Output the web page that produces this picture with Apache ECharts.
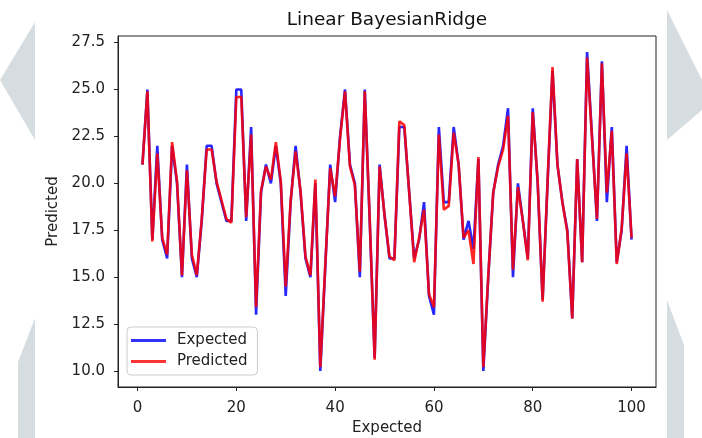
<!DOCTYPE html>
<html>
<head>
<meta charset="utf-8" />
<script src="https://cdn.jsdelivr.net/npm/echarts@6/dist/echarts.min.js"></script>
<style>
  html, body { margin: 0; padding: 0; background: #fff; }
  #chart { width: 702px; height: 438px; }
</style>
</head>
<body>
<div id="chart"></div>
<script>
// 数据：100 个点
const expected = [
  21, 25, 17, 22, 17, 16, 22, 20, 15, 21,
  16, 15, 18, 22, 22, 20, 19, 18, 18, 25,
  25, 18, 23, 13, 19.5, 21, 20, 22, 20, 14,
  19, 22, 19.5, 16, 15, 20, 10, 15.5, 21, 19,
  22.5, 25, 21, 20, 15, 25, 18, 10.7, 21, 18.3,
  16, 16, 23, 23, 19.5, 16, 17, 19, 14, 13,
  23, 19, 19, 23, 21, 17, 18, 16.5, 21.3, 10,
  15, 19.5, 21, 22, 24, 15, 20, 18, 16, 24,
  20, 13.8, 20, 26, 21, 19, 17.5, 12.8, 21.3, 15.8,
  27, 22.5, 18, 26.5, 19, 23, 15.8, 17.5, 22, 17,
];
const predicted = [
  21, 24.9, 16.9, 21.6, 17.1, 16.2, 22.2, 20.1, 15.1, 20.7,
  16.2, 15.1, 18.1, 21.8, 21.8, 20.1, 19.1, 18.1, 17.9, 24.6,
  24.6, 18.2, 22.6, 13.4, 19.6, 20.9, 20.2, 22.2, 20.1, 14.5,
  19.1, 21.7, 19.6, 16.1, 15.1, 20.2, 10.2, 15.6, 20.8, 19.3,
  22.4, 24.9, 20.9, 19.9, 15.3, 24.9, 18.1, 10.6, 20.9, 18.3,
  16.1, 15.9, 23.3, 23.1, 19.5, 15.8, 17.1, 18.6, 14.1, 13.4,
  22.6, 18.6, 18.8, 22.7, 21, 17.1, 17.5, 15.7, 21.4, 10.2,
  15.1, 19.5, 20.9, 21.8, 23.6, 15.4, 19.8, 18, 15.9, 23.8,
  20.1, 13.7, 20.1, 26.2, 21, 19, 17.4, 12.8, 21.3, 15.8,
  26.7, 22.4, 18.1, 26.4, 19.5, 22.8, 15.7, 17.6, 21.6, 17.1,
];
const xTicks = [0, 20, 40, 60, 80, 100];
const yTicks = [10, 12.5, 15, 17.5, 20, 22.5, 25, 27.5];

const FONT = "DejaVu Sans";
const GRAY = "#d6dde1";
const toPairs = (arr) => arr.map((v, i) => [i + 1, v]);

const chart = echarts.init(document.getElementById("chart"));
chart.setOption({
  animation: false,
  textStyle: { fontFamily: FONT },
  // 背景的灰色箭头
  graphic: [
    { type: "polygon", z: -10, shape: { points: [[35, 22], [0, 80], [35, 140]] }, style: { fill: GRAY } },
    { type: "polygon", z: -10, shape: { points: [[35, 318], [18, 362], [18, 438], [35, 438]] }, style: { fill: GRAY } },
    { type: "polygon", z: -10, shape: { points: [[667, 10], [702, 80], [702, 110], [667, 140]] }, style: { fill: GRAY } },
    { type: "polygon", z: -10, shape: { points: [[667, 300], [684, 345], [684, 438], [667, 438]] }, style: { fill: GRAY } },
    // 标题，居中于绘图区
    {
      type: "text", x: 387, y: 20,
      style: {
        text: "Linear BayesianRidge", font: "18.5px " + FONT, fill: "#111",
        align: "center", verticalAlign: "middle",
      },
    },
  ],
  grid: {
    left: 118, top: 36, width: 538, height: 351,
    outerBoundsMode: "none",
    show: true, borderColor: "#222", borderWidth: 1,
  },
  legend: {
    left: 127, top: 327,
    orient: "vertical",
    padding: [6, 10, 6, 4],
    itemGap: 6,
    itemWidth: 35, itemHeight: 3,
    backgroundColor: "rgba(255,255,255,0.85)",
    borderColor: "#ccc", borderWidth: 1, borderRadius: 4,
    textStyle: { fontFamily: FONT, fontSize: 15, color: "#222", padding: [0, 0, 0, 6] },
    data: [
      { name: "Expected", icon: "rect", itemStyle: { color: "#3333ff" } },
      { name: "Predicted", icon: "rect", itemStyle: { color: "#ff3333" } },
    ],
  },
  xAxis: {
    type: "value", min: -3.95, max: 104.95,
    name: "Expected", nameLocation: "middle", nameGap: 34,
    nameTextStyle: { fontFamily: FONT, fontSize: 15, color: "#222" },
    axisLine: { onZero: false, lineStyle: { color: "#222" } },
    axisTick: { customValues: xTicks, length: 4, lineStyle: { color: "#222" } },
    axisLabel: { customValues: xTicks, fontSize: 15, color: "#222", margin: 14, fontFamily: FONT },
    splitLine: { show: false },
  },
  yAxis: {
    type: "value", min: 9.15, max: 27.85,
    name: "Predicted", nameLocation: "middle", nameGap: 57,
    nameTextStyle: { fontFamily: FONT, fontSize: 15, color: "#222" },
    axisLine: { show: true, onZero: false, lineStyle: { color: "#222" } },
    axisTick: { show: true, customValues: yTicks, length: 4, lineStyle: { color: "#222" } },
    axisLabel: {
      customValues: yTicks, fontSize: 15, color: "#222", margin: 13, fontFamily: FONT,
      formatter: (v) => v.toFixed(1),
    },
    splitLine: { show: false },
  },
  series: [
    {
      name: "Expected", type: "line", data: toPairs(expected),
      showSymbol: false, lineStyle: { color: "rgba(0,0,255,0.85)", width: 2.6 },
      itemStyle: { color: "#3333ff" },
    },
    {
      name: "Predicted", type: "line", data: toPairs(predicted),
      showSymbol: false, lineStyle: { color: "rgba(255,0,0,0.85)", width: 2.6 },
      itemStyle: { color: "#ff3333" },
    },
  ],
});
</script>
</body>
</html>
